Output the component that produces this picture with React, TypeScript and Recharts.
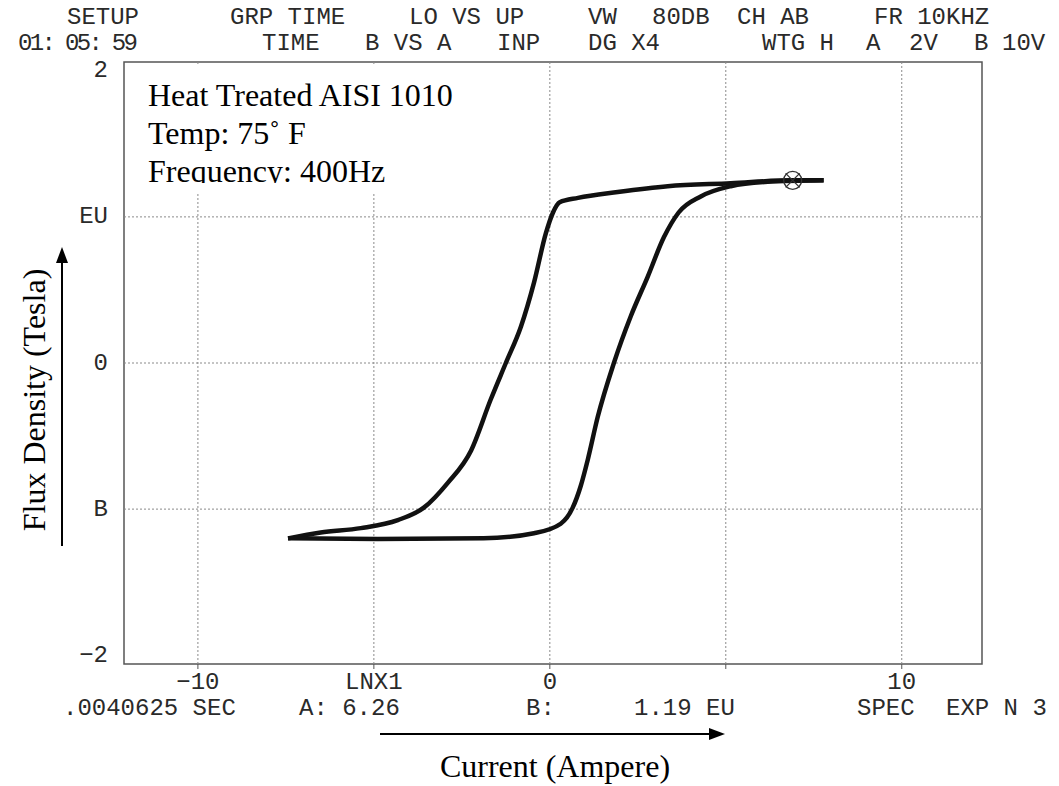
import React from "react";
import {
  ComposedChart,
  Line,
  XAxis,
  YAxis,
  ReferenceArea,
  ReferenceLine,
  ReferenceDot,
} from "recharts";

// descending branch of the loop (upper / left curve), sorted by current
const DOWN_I = [-7.44, -6.51, -5.37, -4.32, -3.58, -2.9, -2.24, -1.68, -1.25, -0.82, -0.45, -0.11, 0.09, 0.28, 0.8, 1.93, 3.35, 5.14, 6.85, 7.78];
const DOWN_B = [-1.2, -1.16, -1.13, -1.075, -0.99, -0.82, -0.6, -0.25, 0, 0.25, 0.55, 0.89, 1.03, 1.1, 1.13, 1.17, 1.21, 1.23, 1.25, 1.25];

// ascending branch (lower / right curve)
const UP_I = [-7.44, -4.89, -1.88, -0.45, 0.31, 0.65, 0.88, 1.08, 1.36, 1.82, 2.3, 2.78, 3.24, 3.66, 4.29, 5.14, 6.19, 7.78];
const UP_B = [-1.2, -1.205, -1.2, -1.165, -1.1, -0.99, -0.84, -0.66, -0.37, 0, 0.32, 0.59, 0.86, 1.03, 1.14, 1.21, 1.24, 1.25];

// cursor marker
const CURSOR_I = 6.9;
const CURSOR_B = 1.25;

const X_TICKS = [-10, -5, 0, 5, 10];
const X_TICK_LABELS = ["\u221210", "LNX1", "0", "", "10"];
const Y_TICKS = [2, 1, 0, -1, -2];
const Y_TICK_LABELS = ["2", "EU", "0", "B", "\u22122"];
const Y_GRID = [1, 0, -1];

const HEADER_1 = ["SETUP", "GRP TIME", "LO VS UP", "VW", "80DB", "CH AB", "FR 10KHZ"];
const HEADER_2 = ["01: 05: 59", "TIME", "B VS A", "INP", "DG X4", "WTG H", "A", "2V", "B", "10V"];
const FOOTER = [".0040625 SEC", "A: 6.26", "B:", "1.19 EU", "SPEC", "EXP N 3"];
const NOTE_LINES = ["Heat Treated AISI 1010", "Temp: 75\u02da F", "Frequency: 400Hz"];

const downData = DOWN_I.map((i, k) => ({ i, b: DOWN_B[k] }));
const upData = UP_I.map((i, k) => ({ i, b: UP_B[k] }));

const MONO = "'Liberation Mono', 'DejaVu Sans Mono', monospace";
const SERIF = "'Liberation Serif', 'DejaVu Serif', serif";
const INK = "#2a2a2a";

const H1_X = [67, 230, 409, 588, 652, 737, 874];
const H2_X = [18, 262, 365, 497, 588, 762, 866, 909, 974, 1002];
const FOOT_X = [63, 299, 526, 634, 857, 946];

const CursorMark = (props: any) => {
  const { cx, cy } = props;
  return (
    <g stroke="#333" strokeWidth={1.3} fill="none">
      <circle cx={cx} cy={cy} r={9} />
      <line x1={cx - 7} y1={cy - 7} x2={cx + 7} y2={cy + 7} />
      <line x1={cx - 7} y1={cy + 7} x2={cx + 7} y2={cy - 7} />
    </g>
  );
};

const YTick = (props: any) => {
  const { x, y, payload } = props;
  return (
    <text x={x} y={y} textAnchor="end" dominantBaseline="central" fill={INK} fontSize={24} fontFamily={MONO}>
      {Y_TICK_LABELS[Y_TICKS.indexOf(payload.value)]}
    </text>
  );
};

export default function App() {
  return (
    <div style={{ position: "absolute", left: 0, top: 0, width: 1059, height: 786, background: "#fff" }}>
      <ComposedChart width={1059} height={786} margin={{ top: 62, right: 77, bottom: 92, left: 64 }}>
        <XAxis
          dataKey="i"
          type="number"
          domain={[-12.1, 12.28]}
          ticks={X_TICKS}
          allowDataOverflow
          tickFormatter={(v: number) => X_TICK_LABELS[X_TICKS.indexOf(v)]}
          axisLine={false}
          tickLine={{ stroke: "#555" }}
          tickSize={5}
          tickMargin={3}
          tick={{ fill: INK, fontSize: 24, fontFamily: MONO }}
        />
        <YAxis
          dataKey="b"
          type="number"
          domain={[-2.06, 2.06]}
          ticks={Y_TICKS}
          allowDataOverflow
          width={60}
          axisLine={false}
          tickLine={false}
          tickSize={6}
          tickMargin={10}
          tick={<YTick />}
        />
        {X_TICKS.map((v) => (
          <ReferenceLine key={"x" + v} x={v} stroke="#8a8a8a" strokeDasharray="2 2" />
        ))}
        {Y_GRID.map((v) => (
          <ReferenceLine key={"y" + v} y={v} stroke="#8a8a8a" strokeDasharray="2 2" />
        ))}
        <ReferenceArea x1={-12.1} x2={12.28} y1={-2.06} y2={2.06} fill="none" stroke="#555" strokeWidth={1.5} />
        <Line
          data={downData}
          dataKey="b"
          type="monotone"
          stroke="#111"
          strokeWidth={4.5}
          dot={false}
          isAnimationActive={false}
        />
        <Line
          data={upData}
          dataKey="b"
          type="monotone"
          stroke="#111"
          strokeWidth={4.5}
          dot={false}
          isAnimationActive={false}
        />
        <ReferenceDot x={CURSOR_I} y={CURSOR_B} shape={<CursorMark />} />
      </ComposedChart>

      <svg width={1059} height={786} style={{ position: "absolute", left: 0, top: 0, pointerEvents: "none" }}>
        {/* analyser header and footer */}
        <g fontFamily={MONO} fontSize={24} fill={INK}>
          {HEADER_1.map((t, k) => (
            <text key={t} x={H1_X[k]} y={24} xmlSpace="preserve">{t}</text>
          ))}
          {HEADER_2.map((t, k) => (
            <text
              key={t + k}
              x={H2_X[k]}
              y={50}
              xmlSpace="preserve"
              textLength={k === 0 ? 120 : undefined}
            >
              {t}
            </text>
          ))}
          {FOOTER.map((t, k) => (
            <text key={t} x={FOOT_X[k]} y={715} xmlSpace="preserve">{t}</text>
          ))}
        </g>

        {/* annotation box */}
        <rect x={126} y={64} width={350} height={129} fill="#fff" />
        <clipPath id="noteClip">
          <rect x={126} y={64} width={350} height={119} />
        </clipPath>
        <g fontFamily={SERIF} fontSize={32} fill="#000" clipPath="url(#noteClip)">
          {NOTE_LINES.map((t, k) => (
            <text key={t} x={148} y={106 + k * 38}>{t}</text>
          ))}
        </g>

        {/* axis captions with arrows */}
        <text
          x={34}
          y={400}
          fontFamily={SERIF}
          fontSize={32}
          textAnchor="middle"
          dominantBaseline="central"
          transform="rotate(-90 34 400)"
        >
          Flux Density (Tesla)
        </text>
        <line x1={62} y1={546} x2={62} y2={260} stroke="#000" strokeWidth={2} />
        <polygon points="62,247 56,263 68,263" fill="#000" />

        <line x1={380} y1={734} x2={712} y2={734} stroke="#000" strokeWidth={2} />
        <polygon points="725,734 709,728 709,740" fill="#000" />
        <text x={555} y={777} fontFamily={SERIF} fontSize={32} textAnchor="middle">
          Current (Ampere)
        </text>
      </svg>
    </div>
  );
}
